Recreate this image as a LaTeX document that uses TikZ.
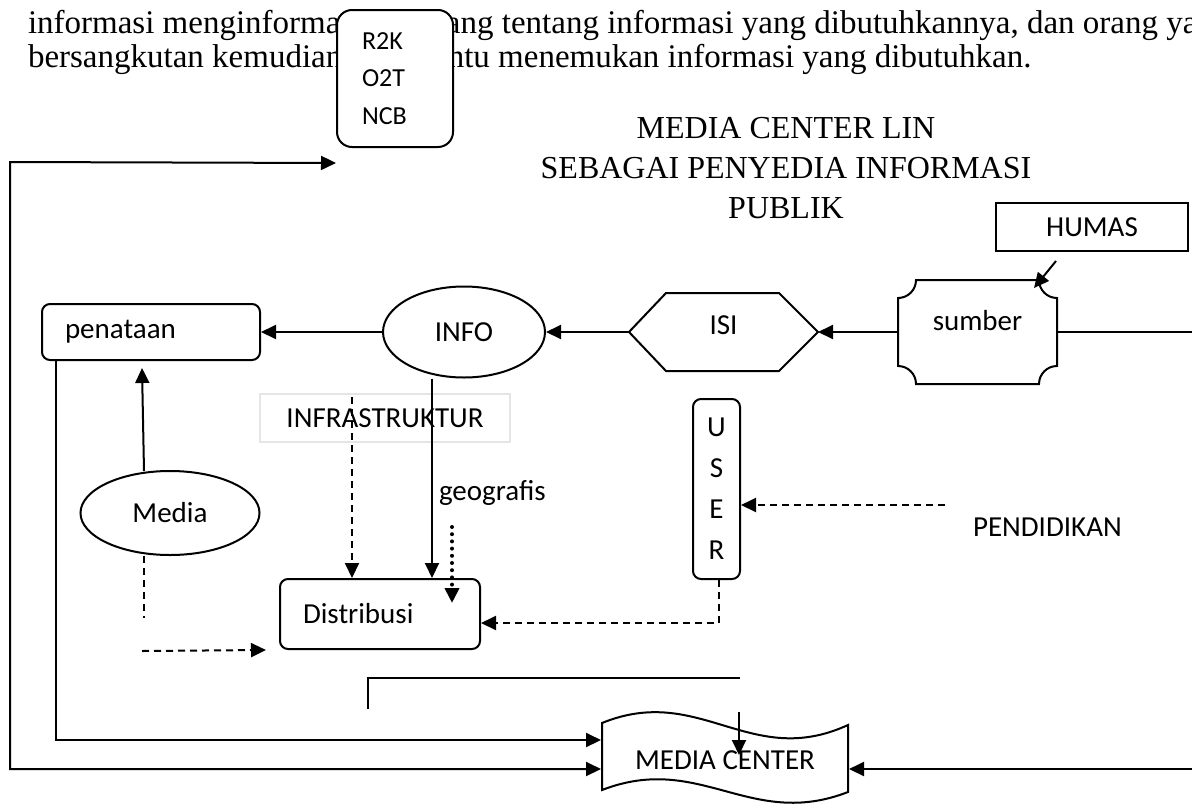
\documentclass[tikz,border=0pt]{standalone}
\usepackage{fontspec}
\setmainfont{Carlito}
\newfontfamily\serifpart{Liberation Serif}
\usetikzlibrary{arrows.meta,shapes.geometric}

\begin{document}
\begin{tikzpicture}[x=0.5pt,y=-0.5pt,line width=1pt,
		font=\fontsize{14.5}{17}\selectfont,
		tip/.style={-{Triangle[length=7.5pt,width=7pt]}},
		both/.style={{Triangle[length=7.5pt,width=7pt]}-{Triangle[length=7.5pt,width=7pt]}},
		dsh/.style={dash pattern=on 3.5pt off 2.5pt},
		dots/.style={line width=2pt,dash pattern=on 0pt off 3.6pt,line cap=round},
		box/.style={draw,rounded corners=4pt,inner sep=0pt},
		oval/.style={draw,ellipse,inner sep=0pt}]
				\useasboundingbox (0,0) rectangle (1192,803);
				% teks paragraf di atas
				\node[anchor=base west,inner sep=0pt,font=\serifpart\fontsize{16.5}{20}\selectfont] (para1) at (27,33) {informasi menginformasikan orang tentang informasi yang dibutuhkannya, dan orang yang};
				\node[anchor=base west,inner sep=0pt,font=\serifpart\fontsize{16.5}{20}\selectfont] (para2) at (27,67) {bersangkutan kemudian membantu menemukan informasi yang dibutuhkan.};
				\node[align=center,font=\serifpart\fontsize{16}{20}\selectfont] (judul) at (786,168) {MEDIA CENTER LIN\\SEBAGAI PENYEDIA INFORMASI\\PUBLIK};
				% kotak-kotak
				\node[box,rounded corners=7.5pt,fill=white,minimum height=68.5pt,text width=33pt,inner xsep=12.5pt,align=left,font=\fontsize{13}{18.75}\selectfont] (r2k) at (395,78.5) {R2K\\O2T\\NCB};
				\node[draw,minimum width=96pt,minimum height=24pt,inner sep=0pt] (humas) at (1092,227) {HUMAS};
				\node[minimum width=78.5pt,minimum height=51pt,inner sep=0pt,text depth=12pt] (sumber) at (977.5,332) {sumber};
				\draw ([yshift=-9pt]sumber.north west) arc[start angle=270,end angle=360,radius=9pt] -- ([xshift=-9pt]sumber.north east) arc[start angle=180,end angle=270,radius=9pt] -- ([yshift=9pt]sumber.south east) arc[start angle=90,end angle=180,radius=9pt] -- ([xshift=9pt]sumber.south west) arc[start angle=0,end angle=90,radius=9pt] -- cycle;
				\node[minimum width=93.5pt,minimum height=38pt,inner sep=0pt,text depth=7pt] (isi) at (723.5,332) {ISI};
				\draw (isi.west) -- ([xshift=18.5pt]isi.north west) -- ([xshift=-19.5pt]isi.north east) -- (isi.east) -- ([xshift=-19.5pt]isi.south east) -- ([xshift=18.5pt]isi.south west) -- cycle;
				\node[oval,minimum width=81pt,minimum height=45.5pt] (info) at (464,332) {INFO};
				\node[box,minimum height=28pt,text width=86pt,inner xsep=11.5pt,align=left] (penataan) at (151,332) {penataan};
				\node[oval,minimum width=89.5pt,minimum height=42pt] (media) at (170,513) {Media};
				\node[draw=black!10,line width=0.6pt,minimum width=125pt,minimum height=24pt,inner sep=0pt] (infra) at (385,418) {INFRASTRUKTUR};
				\node[box,minimum width=23.5pt,minimum height=90pt,align=center,font=\fontsize{14.5}{20.5}\selectfont] (user) at (716.5,489) {U\\S\\E\\R};
				\node[box,minimum height=35pt,text width=77pt,inner xsep=11.5pt,align=left] (distribusi) at (380,614) {Distribusi};
				\node[anchor=west,inner sep=0pt] (geo) at (438,493) {geografis};
				\node[anchor=west,inner sep=0pt] (pendidikan) at (972,527) {PENDIDIKAN};
				\node[minimum width=123pt,minimum height=37pt,inner sep=0pt] (mc) at (725,760) {MEDIA CENTER};
				\draw (602,723) .. controls (700,683) and (750,770) .. (848,725) -- (848,792) .. controls (750,830) and (700,752) .. (602,790) -- cycle;
				\coordinate (kananA) at (1200,332);
				\coordinate (kananB) at (1200,769);
				\coordinate (luar) at (10,162);
				% panah
				\draw (kananA) -- (sumber.east);
				\draw[tip] (sumber.west) -- (isi.east);
				\draw[tip] (isi.west) -- (info.east);
				\draw[tip] (info.west) -- (penataan.east);
				\draw[tip] ([xshift=-18pt,yshift=-4.5pt]humas.south) -- ([xshift=-11.5pt,yshift=-4pt]sumber.north east);
				\draw[tip] ([xshift=-13pt,yshift=-0.5pt]media.north) -- ([xshift=-4.5pt,yshift=-3.5pt]penataan.south);
				\draw[tip] ([xshift=7.5pt]penataan.south west) |- ([yshift=10pt]mc.west);
				\draw[both] ([yshift=-7.5pt]r2k.south west) -- (luar) |- ([yshift=-4.5pt]mc.west);
				\draw[tip] (kananB) -- ([yshift=-4.5pt]mc.east);
				\draw[tip] ([xshift=-16pt]info.south) -- ([xshift=26pt]distribusi.north);
				\draw[dsh,tip] ([xshift=-16.5pt,yshift=-2pt]infra.north) -- ([xshift=-14pt]distribusi.north);
				\draw[dots,tip] ([xshift=36pt,yshift=25.5pt]distribusi.north) -- ([xshift=36pt,yshift=-12.5pt]distribusi.north);
				\draw[dsh,tip] ([xshift=-13.5pt,yshift=11pt]pendidikan.west) -- ([yshift=-8pt]user.east);
				\draw[dsh,tip] ([xshift=1pt]user.south) |- ([yshift=-4.5pt]distribusi.east);
				\draw[dsh] ([xshift=-13pt]media.south) -- ++(0,62);
				\draw[dsh,tip] ([xshift=-14pt,yshift=-47.5pt]media.south) -- ([xshift=-6.5pt,yshift=-18pt]distribusi.west);
				\draw (368,709) |- (740,678);
				\draw[tip] ([xshift=7pt,yshift=5pt]mc.north) -- ([xshift=7pt,yshift=2.5pt]mc.center);
\end{tikzpicture}
\end{document}
